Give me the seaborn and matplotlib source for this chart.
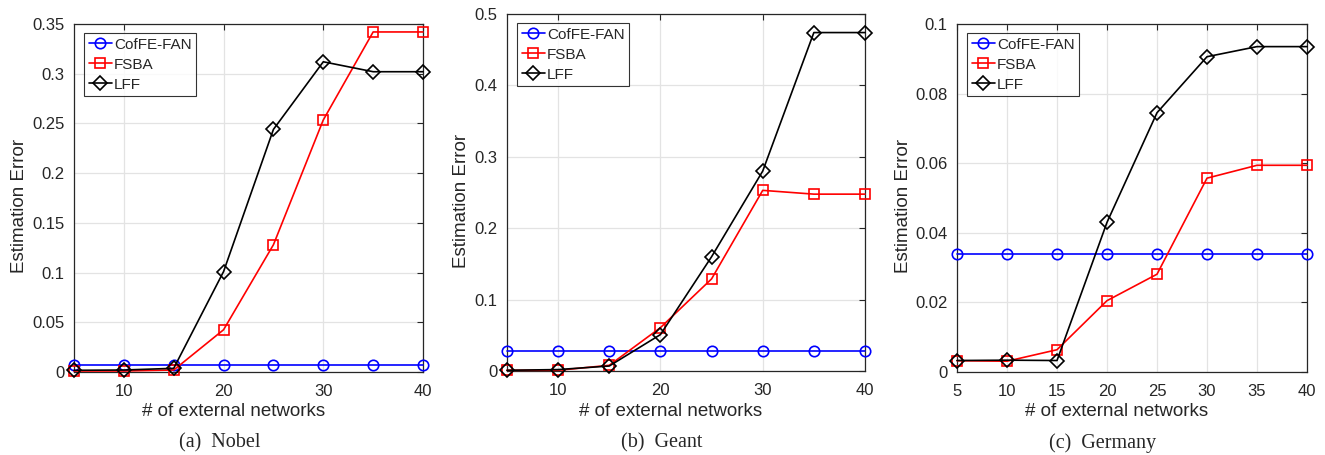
import numpy as np
import pandas as pd
import matplotlib
matplotlib.use("Agg")
import matplotlib.pyplot as plt
import seaborn as sns
from matplotlib.ticker import FuncFormatter

sns.set_style("white")
plt.rcParams['font.family'] = ['Liberation Sans', 'DejaVu Sans']

x_vals = [5, 10, 15, 20, 25, 30, 35, 40]
series_names = ["CofFE-FAN", "FSBA", "LFF"]

nobel_coffe = [0.0067, 0.0067, 0.0067, 0.0067, 0.0067, 0.0067, 0.0067, 0.0067]
nobel_fsba = [0.001, 0.001, 0.002, 0.0425, 0.128, 0.2535, 0.342, 0.342]
nobel_lff = [0.0017, 0.002, 0.0037, 0.101, 0.244, 0.312, 0.302, 0.302]

geant_coffe = [0.0276, 0.0276, 0.0276, 0.0276, 0.0276, 0.0276, 0.0276, 0.0276]
geant_fsba = [0.001, 0.001, 0.008, 0.0607, 0.129, 0.253, 0.2477, 0.2477]
geant_lff = [0.001, 0.002, 0.007, 0.051, 0.160, 0.280, 0.474, 0.474]

germany_coffe = [0.034, 0.034, 0.034, 0.034, 0.034, 0.034, 0.034, 0.034]
germany_fsba = [0.00325, 0.0031, 0.0064, 0.0205, 0.0281, 0.0557, 0.0594, 0.0594]
germany_lff = [0.0033, 0.0034, 0.0033, 0.043, 0.0745, 0.0906, 0.0935, 0.0935]

captions = ["(a)  Nobel", "(b)  Geant", "(c)  Germany"]
xlabel = "# of external networks"
ylabel = "Estimation Error"
ylims = [0.35, 0.5, 0.1]
yticks = [[0, 0.05, 0.1, 0.15, 0.2, 0.25, 0.3, 0.35],
          [0, 0.1, 0.2, 0.3, 0.4, 0.5],
          [0, 0.02, 0.04, 0.06, 0.08, 0.1]]
xticks = [[10, 20, 30, 40], [10, 20, 30, 40], [5, 10, 15, 20, 25, 30, 35, 40]]

panels = [
    (nobel_coffe, nobel_fsba, nobel_lff),
    (geant_coffe, geant_fsba, geant_lff),
    (germany_coffe, germany_fsba, germany_lff),
]

colors = ["#0000ff", "#ff0000", "#000000"]
markers = ["o", "s", "D"]
msizes = [7.5, 6.5, 7.0]

W, H = 1325, 455
fig = plt.figure(figsize=(W / 100, H / 100), dpi=100)

rects = [(74, 24, 423, 372), (507, 14, 865, 371), (957, 24, 1307, 372)]
caption_x = [220, 662, 1103]
xlabel_x = [234, 671, 1117]
ylabel_x = [20, 462, 903]
txt_col = "#262626"

for i, (vals, rect) in enumerate(zip(panels, rects)):
    l, t, r, b = rect
    aw, ah = r - l, b - t
    ax = fig.add_axes([l / W, 1 - b / H, aw / W, ah / H])
    for name, v, c, m, ms in zip(series_names, vals, colors, markers, msizes):
        df = pd.DataFrame({"x": x_vals, "y": v})
        sns.lineplot(data=df, x="x", y="y", ax=ax, color=c, marker=m,
                     markersize=ms, markerfacecolor="none", markeredgecolor=c,
                     markeredgewidth=1.2, linewidth=1.2, label=name,
                     clip_on=False, zorder=3)
    ax.set_xlim(5, 40)
    ax.set_ylim(0, ylims[i])
    ax.set_xticks(xticks[i])
    ax.set_yticks(yticks[i])
    ax.yaxis.set_major_formatter(FuncFormatter(lambda v, p: "%g" % v))
    ax.grid(True, color="#e3e3e3", linewidth=0.9)
    ax.set_axisbelow(True)
    for s in ax.spines.values():
        s.set_color(txt_col)
        s.set_linewidth(0.9)
        s.set_visible(True)
    ax.tick_params(direction="in", length=4, width=0.8, colors=txt_col,
                   labelsize=12, top=True, right=True, labelcolor=txt_col)
    ax.tick_params(axis="x", pad=8.5)
    ax.tick_params(axis="y", pad=7)
    ax.set_xlabel(xlabel, fontsize=13.5, color=txt_col)
    ax.set_ylabel(ylabel, fontsize=13.5, color=txt_col)
    ax.xaxis.label.set_va("center")
    ax.xaxis.set_label_coords((xlabel_x[i] - l) / aw, (b - 412) / ah)
    ax.yaxis.label.set_va("center")
    ax.yaxis.set_label_coords((ylabel_x[i] - l) / aw, (b - (t + b) / 2 - 8) / ah)
    leg = ax.legend(loc="upper left", bbox_to_anchor=(10 / aw, 1 - 9 / ah),
                    borderaxespad=0, fontsize=11, frameon=True, fancybox=False,
                    edgecolor="#000000", handlelength=1.5, handletextpad=0.15,
                    borderpad=0.3, labelspacing=0.4)
    leg.get_frame().set_linewidth(0.8)
    for txt in leg.get_texts():
        txt.set_color(txt_col)
    fig.text(caption_x[i] / W, 1 - 443 / H, captions[i], ha="center", va="center",
             fontsize=14.5, family=["Liberation Serif", "DejaVu Serif"])

fig.savefig("out.png", dpi=100)
